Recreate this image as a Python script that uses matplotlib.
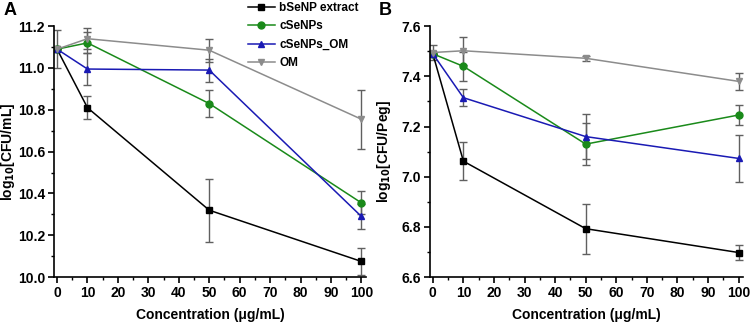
import numpy as np
import matplotlib.pyplot as plt
from matplotlib.ticker import MultipleLocator

plt.rcParams['font.family'] = ['Liberation Sans', 'DejaVu Sans']
plt.rcParams['font.weight'] = 'bold'

conc = [0, 10, 50, 100]
labels = ['bSeNP extract', 'cSeNPs', 'cSeNPs_OM', 'OM']
colors = ['black', '#1a8a1a', '#1a1ab4', '#8c8c8c']
markers = ['s', 'o', '^', 'v']

# panel A: log10 CFU/mL
a_vals = [
    [11.09, 10.81, 10.32, 10.075],
    [11.09, 11.12, 10.83, 10.355],
    [11.09, 10.995, 10.99, 10.29],
    [11.09, 11.14, 11.085, 10.755],
]
a_err = [
    [0.0, 0.055, 0.15, 0.065],
    [0.0, 0.05, 0.065, 0.055],
    [0.0, 0.075, 0.055, 0.06],
    [0.09, 0.05, 0.055, 0.14],
]

# panel B: log10 CFU/Peg
b_vals = [
    [7.49, 7.062, 6.793, 6.698],
    [7.49, 7.44, 7.13, 7.246],
    [7.49, 7.315, 7.16, 7.073],
    [7.495, 7.502, 7.472, 7.38],
]
b_err = [
    [0.0, 0.075, 0.1, 0.03],
    [0.0, 0.058, 0.085, 0.038],
    [0.0, 0.033, 0.09, 0.092],
    [0.03, 0.055, 0.01, 0.035],
]

fig = plt.figure(figsize=(7.5, 3.23), dpi=100)
axA = fig.add_axes([0.072, 0.142, 0.416, 0.777])
axB = fig.add_axes([0.573, 0.142, 0.418, 0.777])


def draw(ax, vals, errs, ylim, ystep, ylabel):
    handles = []
    for v, e, c, m, lab in zip(vals, errs, colors, markers, labels):
        cont = ax.errorbar(conc, v, yerr=e, color=c, marker=m, markersize=5, lw=1.1,
                           ecolor='#606060', elinewidth=1, capsize=3, capthick=1)
        cont[0].set_label(lab)
        handles.append(cont[0])
    ax.set_xlim(-1, 101.5)
    ax.set_ylim(*ylim)
    ax.xaxis.set_major_locator(MultipleLocator(10))
    ax.xaxis.set_minor_locator(MultipleLocator(5))
    ax.yaxis.set_major_locator(MultipleLocator(ystep))
    ax.yaxis.set_minor_locator(MultipleLocator(ystep / 2))
    ax.spines['top'].set_visible(False)
    ax.spines['right'].set_visible(False)
    ax.spines['left'].set_linewidth(1.2)
    ax.spines['bottom'].set_linewidth(1.2)
    ax.tick_params(which='major', length=4, width=1.2, labelsize=10, pad=2.5)
    ax.tick_params(which='minor', length=2.5, width=1)
    for t in ax.get_xticklabels() + ax.get_yticklabels():
        t.set_fontweight('bold')
    ax.set_xlabel('Concentration (\u03bcg/mL)', fontsize=10, fontweight='bold', labelpad=6)
    ax.set_ylabel(ylabel, fontsize=10, fontweight='bold')
    ax.yaxis.set_label_coords(-0.118, 0.5)
    return handles


hA = draw(axA, a_vals, a_err, (10.0, 11.2), 0.2, r'log$_{\mathbf{10}}$[CFU/mL]')
draw(axB, b_vals, b_err, (6.6, 7.6), 0.2, r'log$_{\mathbf{10}}$[CFU/Peg]')

axA.legend(handles=hA, loc='upper right', bbox_to_anchor=(1.0, 1.125), frameon=False,
           fontsize=8.5, handlelength=2.3, handletextpad=0.4,
           labelspacing=0.55, borderpad=0.1)

fig.text(0.005, 0.955, 'A', fontsize=13, fontweight='bold')
fig.text(0.505, 0.955, 'B', fontsize=13, fontweight='bold')

fig.savefig('out.png', dpi=100)
